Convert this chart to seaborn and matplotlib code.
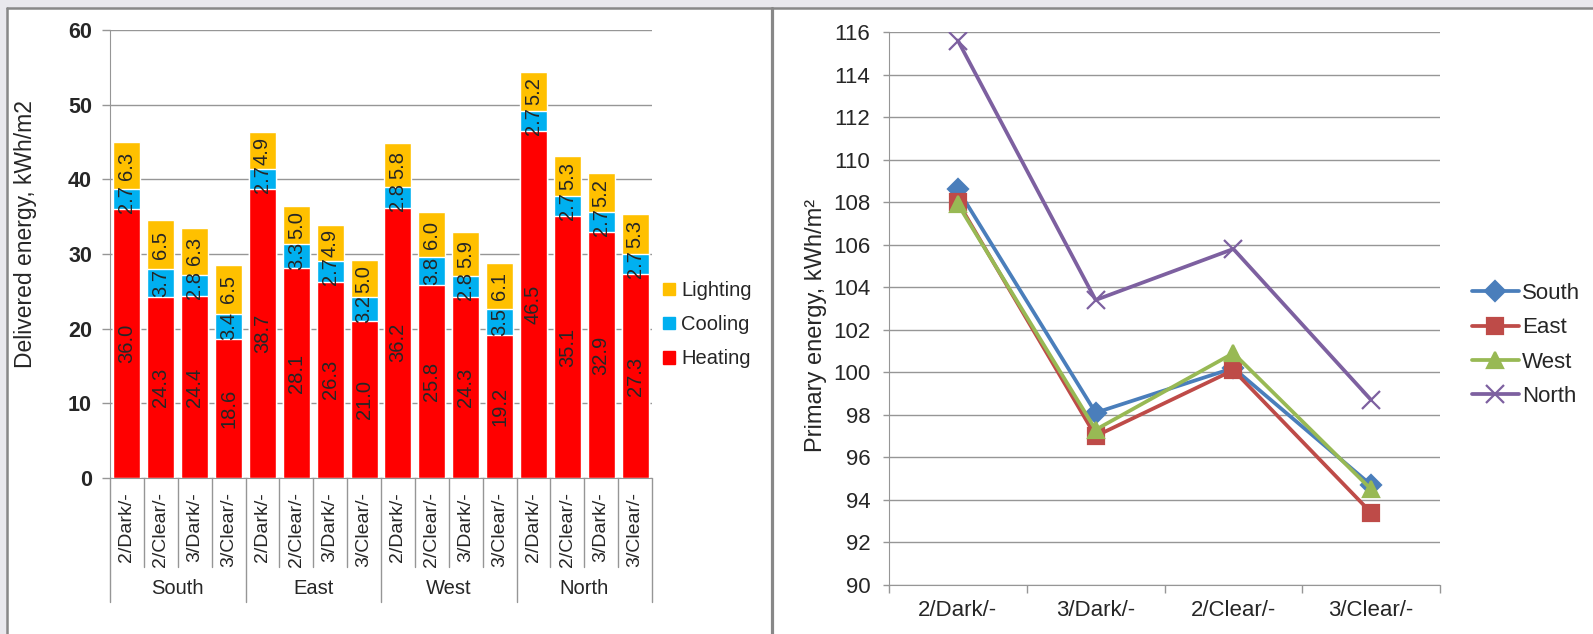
import matplotlib.pyplot as plt
import seaborn as sns
import numpy as np
import pandas as pd
from matplotlib.lines import Line2D
from matplotlib.patches import Patch, Rectangle

# Energía entregada (barras apiladas) y energía primaria (líneas)

orientaciones = ["South", "East", "West", "North"]
vidrios = ["2/Dark/-", "2/Clear/-", "3/Dark/-", "3/Clear/-"]

heating = [36.0, 24.3, 24.4, 18.6, 38.7, 28.1, 26.3, 21.0,
           36.2, 25.8, 24.3, 19.2, 46.5, 35.1, 32.9, 27.3]
cooling = [2.7, 3.7, 2.8, 3.4, 2.7, 3.3, 2.7, 3.2,
           2.8, 3.8, 2.8, 3.5, 2.7, 2.7, 2.7, 2.7]
lighting = [6.3, 6.5, 6.3, 6.5, 4.9, 5.0, 4.9, 5.0,
            5.8, 6.0, 5.9, 6.1, 5.2, 5.3, 5.2, 5.3]

casos = ["2/Dark/-", "3/Dark/-", "2/Clear/-", "3/Clear/-"]
prim_south = [108.6, 98.1, 100.2, 94.7]
prim_east = [108.0, 97.0, 100.1, 93.4]
prim_west = [107.9, 97.3, 100.9, 94.5]
prim_north = [115.6, 103.4, 105.8, 98.7]

sns.set_style("white")
plt.rcParams['font.family'] = ['Liberation Sans', 'DejaVu Sans']

HEAT, COOL, LIGHT = "#FF0000", "#00B0F0", "#FFC000"
GRIS = "#969696"

df = pd.DataFrame({"orient": np.repeat(orientaciones, 4),
                   "vidrio": vidrios * 4,
                   "Heating": heating, "Cooling": cooling, "Lighting": lighting})
df["clave"] = df["orient"] + " " + df["vidrio"]
df["hc"] = df["Heating"] + df["Cooling"]
df["total"] = df["hc"] + df["Lighting"]

W, H = 1593, 634
fig = plt.figure(figsize=(W / 100, H / 100), dpi=100)

# marco tipo captura de pantalla
fig.add_artist(Rectangle((0, 0), 7 / W, 1, transform=fig.transFigure, color="#e9e8ed", zorder=0))
fig.add_artist(Rectangle((0, 1 - 7 / H), 1, 7 / H, transform=fig.transFigure, color="#e9e8ed", zorder=0))
fig.add_artist(Line2D([7.5 / W, 7.5 / W], [0, 1 - 7.5 / H], transform=fig.transFigure, color="#888888", lw=1.8))
fig.add_artist(Line2D([7 / W, 1], [1 - 8 / H, 1 - 8 / H], transform=fig.transFigure, color="#888888", lw=1.8))
fig.add_artist(Line2D([771.5 / W, 771.5 / W], [0, 1 - 8 / H], transform=fig.transFigure, color="#888888", lw=2.3))

# ---------- grafico izquierdo ----------
ax1 = fig.add_axes([110 / W, 1 - 478 / H, 542 / W, 448 / H])
sns.barplot(data=df, x="clave", y="total", color=LIGHT, saturation=1, width=0.8,
            errorbar=None, ax=ax1, zorder=2)
sns.barplot(data=df, x="clave", y="hc", color=COOL, saturation=1, width=0.8,
            errorbar=None, ax=ax1, zorder=2)
sns.barplot(data=df, x="clave", y="Heating", color=HEAT, saturation=1, width=0.8,
            errorbar=None, ax=ax1, zorder=2)

for i, fila in df.iterrows():
    ax1.text(i, fila["Heating"] / 2, f"{fila['Heating']:.1f}", rotation=90,
             ha="center", va="center", fontsize=14.5, zorder=3)
    ax1.text(i, fila["Heating"] + fila["Cooling"] / 2, f"{fila['Cooling']:.1f}", rotation=90,
             ha="center", va="center", fontsize=14.5, zorder=3)
    ax1.text(i, fila["hc"] + fila["Lighting"] / 2, f"{fila['Lighting']:.1f}", rotation=90,
             ha="center", va="center", fontsize=14.5, zorder=3)

ax1.set_xlim(-0.5, 15.5)
ax1.set_ylim(0, 60)
ax1.set_yticks(range(0, 61, 10))
ax1.set_yticklabels([str(v) for v in range(0, 61, 10)], fontsize=15.5, fontweight="bold")
ax1.set_xticks(range(16))
ax1.set_xticklabels(vidrios * 4, rotation=90, fontsize=14)
ax1.tick_params(axis="x", length=0, pad=10)
ax1.tick_params(axis="y", length=6, width=1, color=GRIS, direction="out", left=True, pad=7)
ax1.grid(axis="y", color=GRIS, lw=1)
ax1.set_axisbelow(True)
for s in ["top", "right"]:
    ax1.spines[s].set_visible(False)
for s in ["left", "bottom"]:
    ax1.spines[s].set_color(GRIS)
ax1.set_xlabel("")
ax1.set_ylabel("Delivered energy, kWh/m2", fontsize=16.5)
ax1.yaxis.set_label_coords(-0.135, 0.545)

# separadores del eje de categorias
for k in range(17):
    bajo = -0.277 if k % 4 == 0 else -0.199
    ax1.plot([k - 0.5, k - 0.5], [0, bajo], color=GRIS, lw=1,
             transform=ax1.get_xaxis_transform(), clip_on=False)
for g, nombre in enumerate(orientaciones):
    ax1.text(g * 4 + 1.5, -0.246, nombre, ha="center", va="center", fontsize=14.5,
             transform=ax1.get_xaxis_transform())

ax1.legend(handles=[Patch(color=LIGHT, label="Lighting"),
                    Patch(color=COOL, label="Cooling"),
                    Patch(color=HEAT, label="Heating")],
           loc="upper left", bbox_to_anchor=(663 / W, 1 - 281 / H),
           bbox_transform=fig.transFigure, frameon=False, fontsize=14.5,
           borderpad=0, borderaxespad=0,
           handlelength=0.6, handleheight=0.6, handletextpad=0.3, labelspacing=0.75)

# ---------- grafico derecho ----------
ax2 = fig.add_axes([889 / W, 1 - 585 / H, 551 / W, 553 / H])
series = [("South", prim_south, "#4A7EBB", "D", 10),
          ("East", prim_east, "#BE4B48", "s", 11),
          ("West", prim_west, "#98B954", "^", 11),
          ("North", prim_north, "#7D60A0", "x", 13)]
for nombre, valores, color, marca, tam in series:
    sns.lineplot(x=casos, y=valores, ax=ax2, color=color, marker=marca, markersize=tam,
                 markeredgecolor=color, markeredgewidth=1.6, linewidth=2.7,
                 label=nombre, sort=False)

ax2.set_xlim(-0.5, 3.5)
ax2.set_ylim(90, 116)
ax2.set_yticks(range(90, 117, 2))
ax2.set_yticklabels([str(v) for v in range(90, 117, 2)], fontsize=16)
ax2.set_xticks(range(4))
ax2.set_xticklabels(casos, fontsize=16)
ax2.set_xticks(np.arange(-0.5, 4, 1), minor=True)
ax2.tick_params(axis="x", which="major", length=0, pad=11)
ax2.tick_params(axis="x", which="minor", length=6, width=1, color=GRIS, bottom=True)
ax2.tick_params(axis="y", length=4.5, width=1, color=GRIS, left=True, pad=9)
ax2.grid(axis="y", color=GRIS, lw=1)
ax2.set_axisbelow(True)
for s in ["top", "right"]:
    ax2.spines[s].set_visible(False)
for s in ["left", "bottom"]:
    ax2.spines[s].set_color(GRIS)
ax2.set_ylabel("Primary energy, kWh/m²", fontsize=17)
ax2.yaxis.set_label_coords(-0.1125, 0.47)
ax2.legend(loc="upper left", bbox_to_anchor=(1472 / W, 1 - 283 / H),
           bbox_transform=fig.transFigure, frameon=False, fontsize=16,
           borderpad=0, borderaxespad=0,
           handlelength=2.1, handletextpad=0.15, labelspacing=0.6)

fig.savefig("out.png", dpi=100)
